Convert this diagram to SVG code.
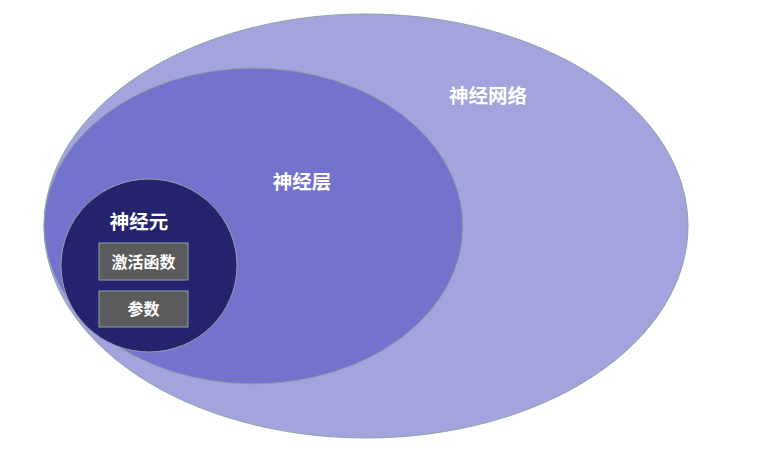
<svg xmlns="http://www.w3.org/2000/svg" width="772" height="455" viewBox="0 0 772 455">
<style>
.sh{stroke:#8ea3a6;stroke-width:1}
.t{font-family:"Liberation Sans","Noto Sans CJK SC",sans-serif;font-weight:bold;fill:#ffffff;text-anchor:middle}
.big{font-size:19.5px}
.small{font-size:16px}
</style>
<rect width="772" height="455" fill="#ffffff"/>
<g id="network">
<ellipse class="sh" cx="366" cy="226" rx="322" ry="212" fill="#a3a3dd"/>
<text class="t big" x="488" y="103">神经网络</text>
</g>
<g id="layer">
<ellipse class="sh" cx="253.5" cy="226" rx="209.5" ry="158" fill="#7373cd"/>
<text class="t big" x="302" y="189">神经层</text>
</g>
<g id="neuron">
<ellipse class="sh" cx="149" cy="265.5" rx="88" ry="86.5" fill="#25236d"/>
<text class="t big" x="139" y="229">神经元</text>
</g>
<g id="activation">
<rect class="sh" x="99" y="243" width="89" height="37" fill="#5b5b5b"/>
<text class="t small" x="143.5" y="268">激活函数</text>
</g>
<g id="params">
<rect class="sh" x="99" y="291" width="89" height="36" fill="#5b5b5b"/>
<text class="t small" x="143.5" y="315">参数</text>
</g>
<g id="connectors"></g>
</svg>
